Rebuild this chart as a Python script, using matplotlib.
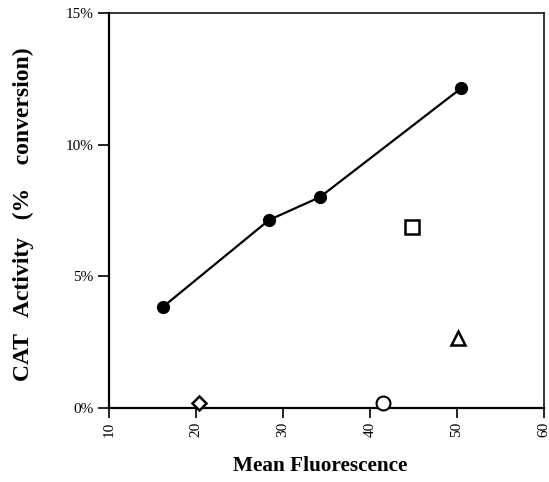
import matplotlib
matplotlib.use('Agg')
import matplotlib.pyplot as plt
from matplotlib.ticker import FuncFormatter

# data
line_x = [16.2, 28.4, 34.25, 50.5]
line_y = [3.84, 7.14, 8.01, 12.15]
square_x, square_y = [44.8], [6.87]
triangle_x, triangle_y = [50.1], [2.65]
diamond_x, diamond_y = [20.3], [0.2]
circle_x, circle_y = [41.5], [0.2]

x_ticks = [10, 20, 30, 40, 50, 60]
y_ticks = [0, 5, 10, 15]

plt.rcParams['font.family'] = ['Liberation Serif', 'DejaVu Serif']

fig = plt.figure(figsize=(5.49, 4.82), dpi=100)
ax = fig.add_axes([0.1985, 0.1535, 0.7925, 0.8195])

ax.plot(line_x, line_y, color='k', lw=1.6, marker='o', ms=8.5, mfc='k', mec='k')
ax.plot(square_x, square_y, ls='none', marker='s', ms=10.5, mfc='white', mec='k', mew=1.8)
ax.plot(triangle_x, triangle_y, ls='none', marker='^', ms=10, mfc='white', mec='k', mew=1.8)
ax.plot(diamond_x, diamond_y, ls='none', marker='D', ms=7.5, mfc='white', mec='k', mew=1.8, clip_on=False, zorder=5)
ax.plot(circle_x, circle_y, ls='none', marker='o', ms=10, mfc='white', mec='k', mew=1.5, clip_on=False, zorder=5)

ax.set_xlim(10, 60)
ax.set_ylim(0, 15)
ax.set_xticks(x_ticks)
ax.set_yticks(y_ticks)
ax.yaxis.set_major_formatter(FuncFormatter(lambda v, p: '%d%%' % v))
ax.tick_params(axis='x', direction='out', length=7, width=1.2, labelsize=11, labelrotation=90, pad=3)
ax.tick_params(axis='y', direction='out', length=8, width=1.2, labelsize=11, pad=3)

for side in ['left', 'bottom']:
    ax.spines[side].set_linewidth(1.6)
for side in ['top', 'right']:
    ax.spines[side].set_linewidth(1.1)

ax.set_xlabel('Mean Fluorescence', fontsize=15.3, fontweight='bold')
ax.xaxis.set_label_coords(0.485, -0.122)
ax.set_ylabel('CAT   Activity   (%    conversion)', fontsize=17, fontweight='bold')
ax.yaxis.set_label_coords(-0.172, 0.49)

fig.savefig('out.png', dpi=100)
